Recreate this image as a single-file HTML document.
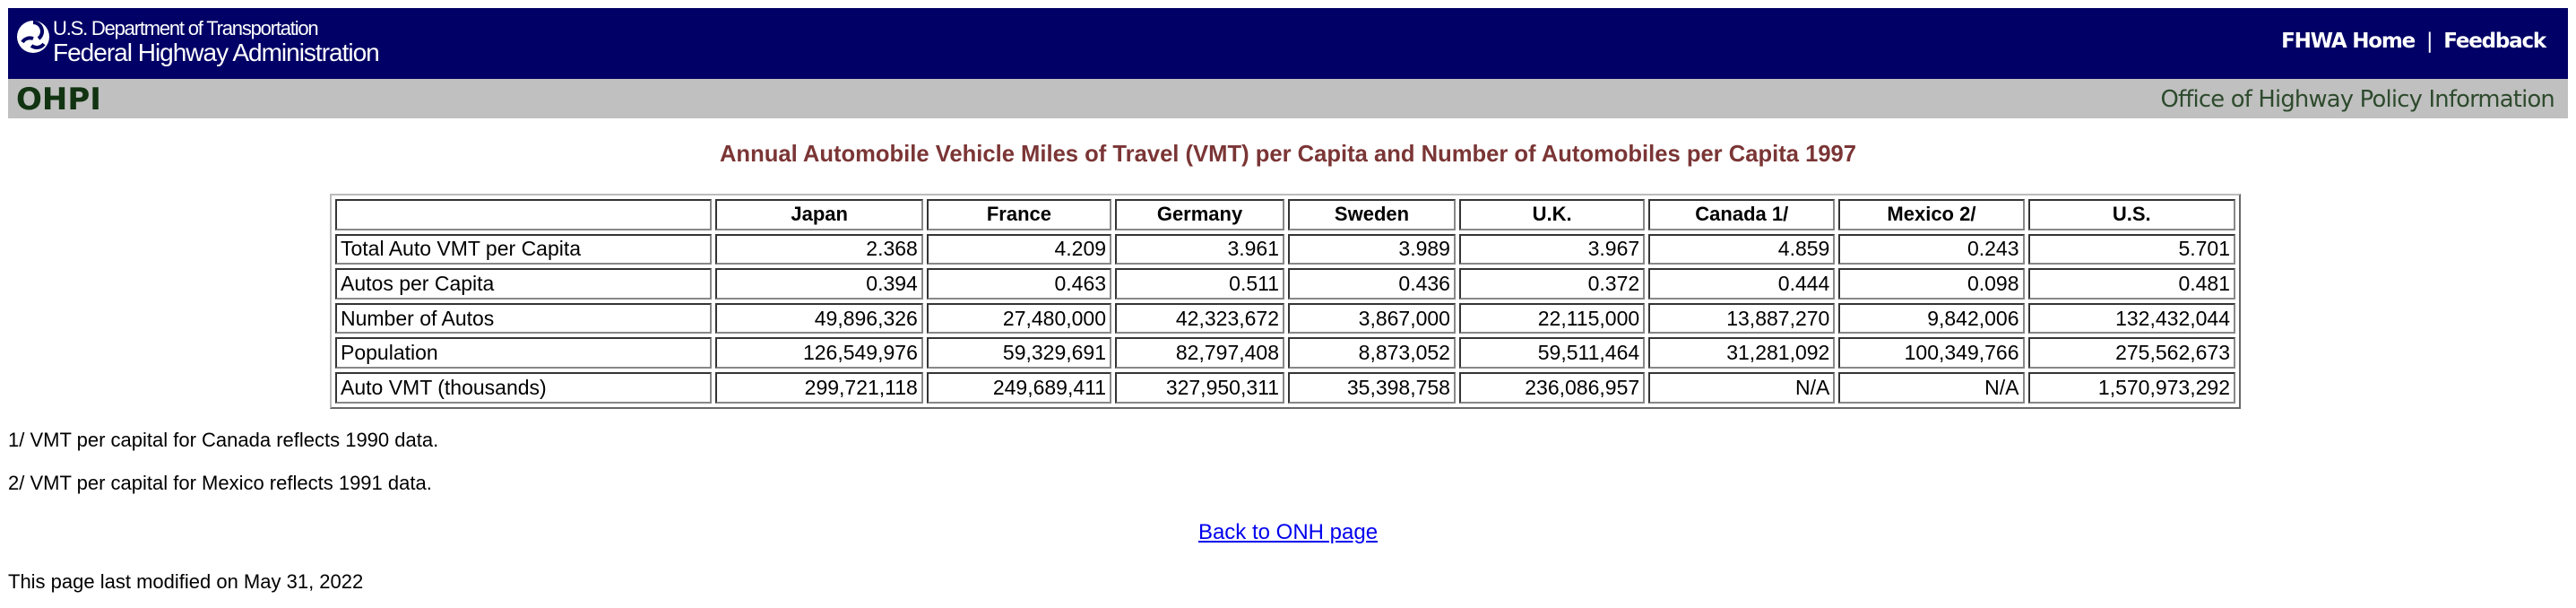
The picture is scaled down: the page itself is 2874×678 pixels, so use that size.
<!DOCTYPE html>
<html><head><meta charset="utf-8"><style>
body{margin:0;width:2874px;height:678px;position:relative;background:#fff;font-family:"Liberation Sans",Arial,sans-serif;overflow:hidden}
.hdr{position:absolute;left:9px;top:9px;width:2856px;height:79px;background:#000066}
.sub{position:absolute;left:9px;top:88px;width:2856px;height:44px;background:#c0c0c0}
.abs{position:absolute;white-space:nowrap}
table{position:absolute;left:368px;top:216px;width:2132px;border:2px outset #bbb;border-spacing:4px;table-layout:fixed}
td,th{border:2px inset #888;height:30.6px;padding:0 4px;font-size:23px;color:#000}
td{text-align:right}
td.l{text-align:left}
th{text-align:center;font-weight:bold;font-size:22px}
</style></head><body>
<div class="hdr">
  <svg class="abs" style="left:8px;top:10px" width="40" height="44" viewBox="0 0 40 44">
    <circle cx="20" cy="22" r="18" fill="#fff"/>
    <path d="M20 6 a10 10 0 0 1 6 18 M8 28 a10 10 0 0 1 12-4 M32 30 a10 10 0 0 1-14 2" stroke="#000066" stroke-width="4" fill="none"/>
  </svg>
  <div class="abs" style="left:50px;top:10px;font-size:22px;color:#fff;letter-spacing:-1.2px">U.S. Department of Transportation</div>
  <div class="abs" style="left:50px;top:34px;font-size:28px;color:#fff;letter-spacing:-1px">Federal Highway Administration</div>
  <div class="abs" style="right:25px;top:24px;font-size:23px;font-weight:bold;color:#fff;font-family:'DejaVu Sans',sans-serif;letter-spacing:-1.2px">
    <span>FHWA Home</span>
    <span style="font-weight:normal;margin:0 6px">|</span>
    <span>Feedback</span>
  </div>
</div>
<div class="sub">
  <div class="abs" style="left:9px;top:3px;font-size:34px;font-weight:bold;color:#113311;font-family:'DejaVu Sans',sans-serif">OHPI</div>
  <div class="abs" style="right:15px;top:8px;font-size:25.8px;color:#2d4a2d;font-family:'DejaVu Sans',sans-serif;letter-spacing:-0.8px">Office of Highway Policy Information</div>
</div>
<div class="abs" style="left:0;width:2874px;text-align:center;top:158px;font-size:25.6px;font-weight:bold;color:#7b3535">Annual Automobile Vehicle Miles of Travel (VMT) per Capita and Number of Automobiles per Capita 1997</div>
<table>
<colgroup><col style="width:416px"><col style="width:229px"><col style="width:204px"><col style="width:187px"><col style="width:185px"><col style="width:205px"><col style="width:206px"><col style="width:205px"><col style="width:229px"></colgroup>
<tr><th></th><th>Japan</th><th>France</th><th>Germany</th><th>Sweden</th><th>U.K.</th><th>Canada 1/</th><th>Mexico 2/</th><th>U.S.</th></tr>
<tr><td class="l">Total Auto VMT per Capita</td><td>2.368</td><td>4.209</td><td>3.961</td><td>3.989</td><td>3.967</td><td>4.859</td><td>0.243</td><td>5.701</td></tr>
<tr><td class="l">Autos per Capita</td><td>0.394</td><td>0.463</td><td>0.511</td><td>0.436</td><td>0.372</td><td>0.444</td><td>0.098</td><td>0.481</td></tr>
<tr><td class="l">Number of Autos</td><td>49,896,326</td><td>27,480,000</td><td>42,323,672</td><td>3,867,000</td><td>22,115,000</td><td>13,887,270</td><td>9,842,006</td><td>132,432,044</td></tr>
<tr><td class="l">Population</td><td>126,549,976</td><td>59,329,691</td><td>82,797,408</td><td>8,873,052</td><td>59,511,464</td><td>31,281,092</td><td>100,349,766</td><td>275,562,673</td></tr>
<tr><td class="l">Auto VMT (thousands)</td><td>299,721,118</td><td>249,689,411</td><td>327,950,311</td><td>35,398,758</td><td>236,086,957</td><td>N/A</td><td>N/A</td><td>1,570,973,292</td></tr>
</table>
<div class="abs" style="left:9px;top:478px;font-size:22px">1/ VMT per capital for Canada reflects 1990 data.</div>
<div class="abs" style="left:9px;top:526px;font-size:22px">2/ VMT per capital for Mexico reflects 1991 data.</div>
<div class="abs" style="left:0;width:2874px;text-align:center;top:580px;font-size:24px"><span style="color:#0000ee;text-decoration:underline">Back to ONH page</span></div>
<div class="abs" style="left:9px;top:636px;font-size:22px">This page last modified on May 31, 2022</div>
</body></html>
